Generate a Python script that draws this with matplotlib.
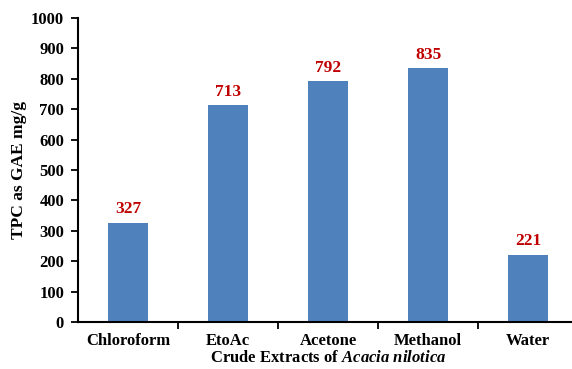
import numpy as np
import matplotlib.pyplot as plt

plt.rcParams['font.family'] = ['Liberation Serif', 'DejaVu Serif']
plt.rcParams['font.weight'] = 'bold'
plt.rcParams['mathtext.fontset'] = 'custom'
plt.rcParams['mathtext.it'] = 'Liberation Serif:italic:bold'
plt.rcParams['mathtext.rm'] = 'Liberation Serif:bold'

# Extractos y contenido fenólico total
extracts = ['Chloroform', 'EtoAc', 'Acetone', 'Methanol', 'Water']
tpc = [327, 713, 792, 835, 221]

fig = plt.figure(figsize=(5.72, 3.69), dpi=100)
ax = fig.add_axes([78 / 572, 47 / 369, 500 / 572, 304 / 369])

x = np.arange(len(extracts))
bars = ax.bar(x, tpc, width=0.4, color='#4F81BD', zorder=2)

for xi, v in zip(x, tpc):
    ax.annotate(str(v), (xi, v), xytext=(0, 4), textcoords='offset points',
                ha='center', va='bottom', color='#C00000',
                fontsize=12.5, fontweight='bold')

ax.set_xlim(-0.5, 4.5)
ax.set_ylim(0, 1000)
ax.set_yticks(np.arange(0, 1001, 100))
ax.set_xticks(x)
ax.set_xticklabels(extracts, fontsize=12, fontweight='bold')
ax.set_xticks(np.arange(0.5, 4.5, 1), minor=True)
ax.tick_params(axis='x', which='major', length=0, pad=8)
ax.tick_params(axis='x', which='minor', length=5, width=1.3, direction='out')
ax.tick_params(axis='y', length=5, width=1.3, direction='out', labelsize=12, pad=5)
for lbl in ax.get_yticklabels():
    lbl.set_fontweight('bold')

for side in ['top', 'right']:
    ax.spines[side].set_visible(False)
for side in ['left', 'bottom']:
    ax.spines[side].set_linewidth(1.5)

ax.set_ylabel('TPC as GAE mg/g', fontsize=12.5, fontweight='bold', labelpad=3)
ax.set_xlabel(r'Crude Extracts of $\mathit{Acacia\ nilotica}$',
              fontsize=12, fontweight='bold', labelpad=1)

fig.savefig('out.png', dpi=100)
